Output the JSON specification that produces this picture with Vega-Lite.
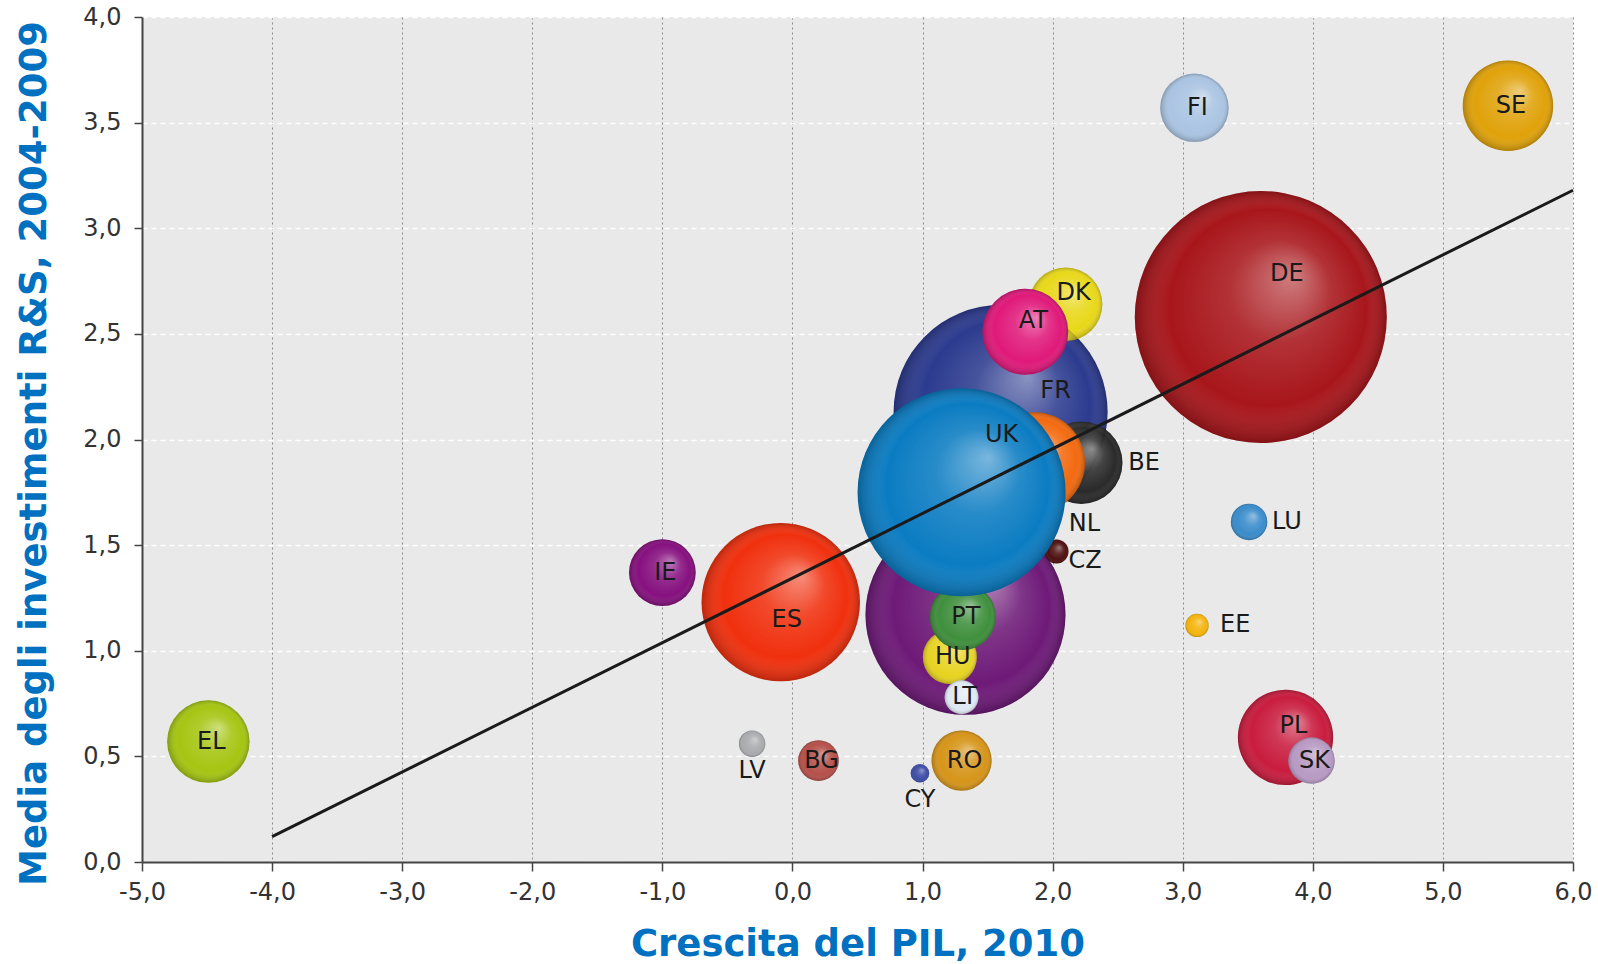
{
  "$schema": "https://vega.github.io/schema/vega-lite/v6.json",
  "autosize": "none",
  "width": 1431,
  "height": 845,
  "padding": {"left": 142, "top": 17, "right": 25, "bottom": 102},
  "background": "#ffffff",
  "config": {
    "view": {"fill": "#e9e9e9", "stroke": null},
    "font": "DejaVu Sans"
  },
  "data": {
    "values": [
      {"paese": "DE", "crescita": 3.6, "rs": 2.58, "peso": 100},
      {"paese": "FR", "crescita": 1.6, "rs": 2.13, "peso": 72.1},
      {"paese": "UK", "crescita": 1.3, "rs": 1.75, "peso": 68.1},
      {"paese": "IT", "crescita": 1.33, "rs": 1.17, "peso": 63.0},
      {"paese": "ES", "crescita": -0.09, "rs": 1.23, "peso": 39.5},
      {"paese": "NL", "crescita": 1.86, "rs": 1.89, "peso": 16.1},
      {"paese": "PL", "crescita": 3.79, "rs": 0.59, "peso": 14.3},
      {"paese": "SE", "crescita": 5.5, "rs": 3.58, "peso": 12.9},
      {"paese": "AT", "crescita": 1.79, "rs": 2.51, "peso": 11.6},
      {"paese": "BE", "crescita": 2.22, "rs": 1.89, "peso": 10.7},
      {"paese": "EL", "crescita": -4.49, "rs": 0.57, "peso": 10.7},
      {"paese": "DK", "crescita": 2.1, "rs": 2.64, "peso": 8.5},
      {"paese": "FI", "crescita": 3.09, "rs": 3.57, "peso": 7.4},
      {"paese": "IE", "crescita": -1.0, "rs": 1.37, "peso": 7.0},
      {"paese": "PT", "crescita": 1.31, "rs": 1.16, "peso": 6.9},
      {"paese": "RO", "crescita": 1.3, "rs": 0.48, "peso": 5.7},
      {"paese": "HU", "crescita": 1.21, "rs": 0.97, "peso": 4.6},
      {"paese": "SK", "crescita": 3.99, "rs": 0.48, "peso": 3.4},
      {"paese": "BG", "crescita": 0.2, "rs": 0.48, "peso": 2.6},
      {"paese": "LU", "crescita": 3.51, "rs": 1.61, "peso": 2.1},
      {"paese": "LT", "crescita": 1.3, "rs": 0.78, "peso": 1.8},
      {"paese": "LV", "crescita": -0.31, "rs": 0.56, "peso": 1.1},
      {"paese": "CZ", "crescita": 2.03, "rs": 1.47, "peso": 0.9},
      {"paese": "EE", "crescita": 3.11, "rs": 1.12, "peso": 0.86},
      {"paese": "CY", "crescita": 0.98, "rs": 0.42, "peso": 0.54}
    ]
  },
  "encoding": {
    "x": {
      "field": "crescita",
      "type": "quantitative",
      "scale": {"domain": [-5, 6], "nice": false, "zero": false},
      "axis": {
        "values": [-5, -4, -3, -2, -1, 0, 1, 2, 3, 4, 5, 6],
        "labelExpr": "replace(replace(format(datum.value, '.1f'), '.', ','), '\u2212', '-')",
        "title": "Crescita del PIL, 2010",
        "titleFont": "DejaVu Sans",
        "titleFontSize": 37,
        "titleFontWeight": "bold",
        "titleColor": "#0070c0",
        "titleX": 715.5,
        "titleY": 93,
        "titleAlign": "center",
        "titleBaseline": "alphabetic",
        "labelFont": "DejaVu Sans",
        "labelFontSize": 24,
        "labelColor": "#333333",
        "labelPadding": 9,
        "labelFlush": false,
        "labelOverlap": false,
        "tickSize": 9,
        "tickColor": "#444444",
        "tickWidth": 1.5,
        "domainColor": "#444444",
        "domainWidth": 2,
        "grid": true,
        "gridColor": "#8a8a8a",
        "gridDash": [2, 3],
        "gridWidth": 1
      }
    },
    "y": {
      "field": "rs",
      "type": "quantitative",
      "scale": {"domain": [0, 4], "nice": false, "zero": true},
      "axis": {
        "values": [0, 0.5, 1, 1.5, 2, 2.5, 3, 3.5, 4],
        "labelExpr": "replace(replace(format(datum.value, '.1f'), '.', ','), '\u2212', '-')",
        "title": "Media degli investimenti R&S, 2004-2009",
        "titleFont": "DejaVu Sans",
        "titleFontSize": 37,
        "titleFontWeight": "bold",
        "titleColor": "#0070c0",
        "titleX": -97,
        "titleY": 436,
        "titleAngle": -90,
        "titleAlign": "center",
        "titleBaseline": "alphabetic",
        "labelFont": "DejaVu Sans",
        "labelFontSize": 24,
        "labelColor": "#333333",
        "labelPadding": 13,
        "labelFlush": false,
        "labelOverlap": false,
        "tickSize": 8,
        "tickColor": "#444444",
        "tickWidth": 1.5,
        "domainColor": "#444444",
        "domainWidth": 2,
        "grid": true,
        "gridColor": "#ffffff",
        "gridDash": [5, 4],
        "gridWidth": 1.5
      }
    }
  },
  "layer": [
    {
      "transform": [{"filter": {"not": {"field": "paese", "oneOf": ["AT", "NL", "PT", "SK", "LT", "UK"]}}}],
      "mark": {"type": "circle", "opacity": 1},
      "encoding": {
        "size": {"field": "peso", "type": "quantitative", "scale": {"domain": [0, 100], "range": [0, 63504], "zero": true}, "legend": null},
        "color": {
          "field": "paese", "type": "nominal", "legend": null,
          "scale": {
            "domain": ["DE","FR","UK","IT","ES","NL","PL","SE","AT","BE","EL","DK","FI","IE","PT","RO","HU","SK","BG","LU","LT","LV","CZ","EE","CY"],
            "range": ["#a8161b","#2c3b8f","#0b7cc2","#6e1a78","#f0300e","#f36a10","#c91c3e","#e0a20a","#e0197a","#2a2a2a","#a5c512","#e8d81a","#aac4e2","#86107f","#3f8f3d","#d6951a","#e7d21c","#b89ac4","#b5504a","#3a8ccb","#dfe9f3","#a9abae","#4d0f0f","#f4b40c","#3c4ba6"]
          }
        }
      }
    },
    {
      "transform": [{"filter": {"not": {"field": "paese", "oneOf": ["AT", "NL", "PT", "SK", "LT", "UK"]}}}],
      "mark": {
        "type": "circle", "opacity": 1,
        "fill": {"gradient": "radial", "x1": 0.63, "y1": 0.33, "r1": 0, "x2": 0.5, "y2": 0.5, "r2": 0.5,
          "stops": [
            {"offset": 0, "color": "rgba(255,255,255,0.45)"},
            {"offset": 0.4, "color": "rgba(255,255,255,0.12)"},
            {"offset": 0.78, "color": "rgba(255,255,255,0)"},
            {"offset": 1, "color": "rgba(0,0,0,0.22)"}
          ]}
      },
      "encoding": {
        "size": {"field": "peso", "type": "quantitative", "legend": null}
      }
    },
    {
      "transform": [{"filter": {"field": "paese", "oneOf": ["AT", "NL", "PT", "SK", "LT"]}}],
      "mark": {"type": "circle", "opacity": 1},
      "encoding": {
        "size": {"field": "peso", "type": "quantitative", "legend": null},
        "color": {"field": "paese", "type": "nominal", "legend": null}
      }
    },
    {
      "transform": [{"filter": {"field": "paese", "oneOf": ["AT", "NL", "PT", "SK", "LT"]}}],
      "mark": {
        "type": "circle", "opacity": 1,
        "fill": {"gradient": "radial", "x1": 0.63, "y1": 0.33, "r1": 0, "x2": 0.5, "y2": 0.5, "r2": 0.5,
          "stops": [
            {"offset": 0, "color": "rgba(255,255,255,0.45)"},
            {"offset": 0.4, "color": "rgba(255,255,255,0.12)"},
            {"offset": 0.78, "color": "rgba(255,255,255,0)"},
            {"offset": 1, "color": "rgba(0,0,0,0.22)"}
          ]}
      },
      "encoding": {
        "size": {"field": "peso", "type": "quantitative", "legend": null}
      }
    },
    {
      "transform": [{"filter": {"field": "paese", "oneOf": ["UK"]}}],
      "mark": {"type": "circle", "opacity": 1},
      "encoding": {
        "size": {"field": "peso", "type": "quantitative", "legend": null},
        "color": {"field": "paese", "type": "nominal", "legend": null}
      }
    },
    {
      "transform": [{"filter": {"field": "paese", "oneOf": ["UK"]}}],
      "mark": {
        "type": "circle", "opacity": 1,
        "fill": {"gradient": "radial", "x1": 0.63, "y1": 0.33, "r1": 0, "x2": 0.5, "y2": 0.5, "r2": 0.5,
          "stops": [
            {"offset": 0, "color": "rgba(255,255,255,0.45)"},
            {"offset": 0.4, "color": "rgba(255,255,255,0.12)"},
            {"offset": 0.78, "color": "rgba(255,255,255,0)"},
            {"offset": 1, "color": "rgba(0,0,0,0.22)"}
          ]}
      },
      "encoding": {
        "size": {"field": "peso", "type": "quantitative", "legend": null}
      }
    },
    {
      "data": {"values": [{"crescita": -4, "rs": 0.12}, {"crescita": 6, "rs": 3.18}]},
      "mark": {"type": "line", "color": "#1a1a1a", "strokeWidth": 3},
      "encoding": {}
    },
    {
      "transform": [{"filter": {"field": "paese", "oneOf": ["EL","IE","PT","HU","LT","BG","RO","FI","SE","SK"]}}],
      "mark": {"type": "text", "font": "DejaVu Sans", "fontSize": 24, "color": "#1a1a1a", "align": "center", "baseline": "middle", "dx": 3},
      "encoding": {"text": {"field": "paese"}}
    },
    {
      "transform": [{"filter": {"field": "paese", "oneOf": ["PL","DK","AT"]}}],
      "mark": {"type": "text", "font": "DejaVu Sans", "fontSize": 24, "color": "#1a1a1a", "align": "center", "baseline": "middle", "dx": 8, "dy": -11},
      "encoding": {"text": {"field": "paese"}}
    },
    {
      "transform": [{"filter": {"field": "paese", "oneOf": ["ES"]}}],
      "mark": {"type": "text", "font": "DejaVu Sans", "fontSize": 24, "color": "#1a1a1a", "align": "center", "baseline": "middle", "dx": 6, "dy": 18},
      "encoding": {"text": {"field": "paese"}}
    },
    {
      "transform": [{"filter": {"field": "paese", "oneOf": ["DE"]}}],
      "mark": {"type": "text", "font": "DejaVu Sans", "fontSize": 24, "color": "#1a1a1a", "align": "center", "baseline": "middle", "dx": 26, "dy": -43},
      "encoding": {"text": {"field": "paese"}}
    },
    {
      "transform": [{"filter": {"field": "paese", "oneOf": ["UK"]}}],
      "mark": {"type": "text", "font": "DejaVu Sans", "fontSize": 24, "color": "#1a1a1a", "align": "center", "baseline": "middle", "dx": 40, "dy": -57},
      "encoding": {"text": {"field": "paese"}}
    },
    {
      "transform": [{"filter": {"field": "paese", "oneOf": ["FR"]}}],
      "mark": {"type": "text", "font": "DejaVu Sans", "fontSize": 24, "color": "#1a1a1a", "align": "center", "baseline": "middle", "dx": 55, "dy": -21},
      "encoding": {"text": {"field": "paese"}}
    },
    {
      "transform": [{"filter": {"field": "paese", "oneOf": ["BE"]}}],
      "mark": {"type": "text", "font": "DejaVu Sans", "fontSize": 24, "color": "#1a1a1a", "align": "left", "baseline": "middle", "dx": 47},
      "encoding": {"text": {"field": "paese"}}
    },
    {
      "transform": [{"filter": {"field": "paese", "oneOf": ["LU","EE"]}}],
      "mark": {"type": "text", "font": "DejaVu Sans", "fontSize": 24, "color": "#1a1a1a", "align": "left", "baseline": "middle", "dx": 23},
      "encoding": {"text": {"field": "paese"}}
    },
    {
      "transform": [{"filter": {"field": "paese", "oneOf": ["CZ"]}}],
      "mark": {"type": "text", "font": "DejaVu Sans", "fontSize": 24, "color": "#1a1a1a", "align": "left", "baseline": "middle", "dx": 12, "dy": 10},
      "encoding": {"text": {"field": "paese"}}
    },
    {
      "transform": [{"filter": {"field": "paese", "oneOf": ["LV","CY"]}}],
      "mark": {"type": "text", "font": "DejaVu Sans", "fontSize": 24, "color": "#1a1a1a", "align": "center", "baseline": "middle", "dy": 27},
      "encoding": {"text": {"field": "paese"}}
    },
    {
      "transform": [{"filter": {"field": "paese", "oneOf": ["NL"]}}],
      "mark": {"type": "text", "font": "DejaVu Sans", "fontSize": 24, "color": "#1a1a1a", "align": "center", "baseline": "middle", "dx": 50, "dy": 61},
      "encoding": {"text": {"field": "paese"}}
    }
  ]
}
